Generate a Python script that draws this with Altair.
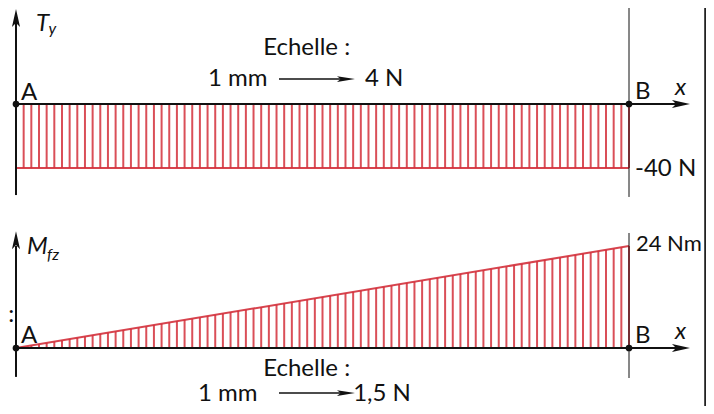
import altair as alt
import pandas as pd

# ---------------- data ----------------
beam_length = 0.6        # m, from A to B
shear_value = -40.0      # N   (Ty along AB)
moment_B = 24.0          # Nm  (Mfz at B, 0 at A)
hatch_count = 80         # number of hatch intervals along AB
point_names = ["A", "B"]
point_x = [0.0, beam_length]
shear_label = "-40 N"
moment_label = "24 Nm"
scale_T = ["Echelle :", "1 mm", "4 N"]
scale_M = ["Echelle :", "1 mm", "1,5 N"]

hatch_x = [beam_length * i / hatch_count for i in range(1, hatch_count + 1)]

# ---------------- style ----------------
RED = "#d3303b"
INK = "#111111"
FONT = "Lato"
FS = 24
W, H = 698, 398

xs = alt.Scale(domain=[-0.00783, 0.675367], nice=False, zero=False)
yT = alt.Scale(domain=[-188.75, 60.0], nice=False, zero=False)
yM = alt.Scale(domain=[-13.647, 80.0], nice=False, zero=False)

ARROW_LONG = "M0,0L-2,-0.45L-1.55,0L-2,0.45Z"
ARROW_THIN = "M0,0L-2,-0.32L-1.6,0L-2,0.32Z"


def X():
    return alt.X("x:Q", scale=xs, axis=None)


def Y(sc):
    return alt.Y("y:Q", scale=sc, axis=None)


def hseg(sc, rows, **kw):
    df = pd.DataFrame(rows, columns=["x", "x2", "y"])
    return alt.Chart(df).mark_rule(**kw).encode(x=X(), x2="x2:Q", y=Y(sc))


def vseg(sc, rows, **kw):
    df = pd.DataFrame(rows, columns=["x", "y", "y2"])
    return alt.Chart(df).mark_rule(**kw).encode(x=X(), y=Y(sc), y2="y2:Q")


def arrows(sc, rows, path, size, angle=0):
    df = pd.DataFrame(rows, columns=["x", "y"])
    kw = dict(shape=path, size=size, filled=True, color=INK, opacity=1, strokeWidth=0)
    if angle:
        kw["angle"] = angle
    return alt.Chart(df).mark_point(**kw).encode(x=X(), y=Y(sc))


def dots(sc):
    df = pd.DataFrame({"x": point_x, "y": [0.0, 0.0]})
    return alt.Chart(df).mark_point(shape="circle", size=45, filled=True, color=INK,
                                    opacity=1).encode(x=X(), y=Y(sc))


def texts(sc, rows, align="left", size=FS, italic=False):
    df = pd.DataFrame(rows, columns=["t", "x", "y"])
    kw = dict(align=align, baseline="middle", font=FONT, fontSize=size, color=INK)
    if italic:
        kw["fontStyle"] = "italic"
    return alt.Chart(df).mark_text(**kw).encode(x=X(), y=Y(sc), text="t:N")


# ---------------- top panel : Ty ----------------
hatch_T = alt.Chart(pd.DataFrame({"x": hatch_x})).transform_calculate(
    y="0", y2=str(shear_value)
).mark_rule(color=RED, strokeWidth=2, opacity=0.85).encode(x=X(), y=Y(yT), y2="y2:Q")

top = alt.layer(
    hatch_T,
    hseg(yT, [[0.0, beam_length, shear_value]], color=RED, strokeWidth=2, opacity=0.9),
    vseg(yT, [[0.67460, 60.0, -188.75]], color="#222222", strokeWidth=2),
    vseg(yT, [[beam_length, 60.0, -58.1]], color=INK, strokeWidth=1),
    vseg(yT, [[0.0, -56.9, 55.0]], color=INK, strokeWidth=2),
    hseg(yT, [[0.0, 0.655, 0.0]], color=INK, strokeWidth=2),
    arrows(yT, [[0.6597, 0.0]], ARROW_LONG, 324),
    arrows(yT, [[0.0, 59.4]], ARROW_LONG, 324, angle=270),
    dots(yT),
    texts(yT, [["A", 0.0049, 6.9], ["B", 0.6059, 7.2], [shear_label, 0.6059, -40.6],
               [scale_T[1], 0.1879, 15.6], [scale_T[2], 0.3416, 15.6]]),
    texts(yT, [[scale_T[0], 0.2845, 35.0]], align="center"),
    texts(yT, [["x", 0.645, 10.0], ["T", 0.0196, 50.0]], italic=True),
    texts(yT, [["y", 0.0318, 46.6]], size=16, italic=True),
    hseg(yT, [[0.2574, 0.325, 15.6]], color=INK, strokeWidth=1.5),
    arrows(yT, [[0.3318, 15.6]], ARROW_THIN, 324),
)

# ---------------- bottom panel : Mfz ----------------
hatch_M = alt.Chart(pd.DataFrame({"x": hatch_x})).transform_calculate(
    y="0", y2=f"datum.x * {moment_B} / {beam_length}"
).mark_rule(color=RED, strokeWidth=2, opacity=0.85).encode(x=X(), y=Y(yM), y2="y2:Q")

slope = alt.Chart(pd.DataFrame({"x": [0.0], "x2": [beam_length], "y": [0.0], "y2": [moment_B]})
                  ).mark_rule(color=RED, strokeWidth=2, opacity=0.9).encode(
    x=X(), x2="x2:Q", y=Y(yM), y2="y2:Q")

bottom = alt.layer(
    hatch_M,
    slope,
    vseg(yM, [[beam_length, 27.06, -7.06]], color=INK, strokeWidth=1),
    vseg(yM, [[0.0, -6.8, 24.0]], color=INK, strokeWidth=2),
    hseg(yM, [[0.0, 0.655, 0.0]], color=INK, strokeWidth=2),
    arrows(yM, [[0.6597, 0.0]], ARROW_LONG, 324),
    arrows(yM, [[0.0, 27.5]], ARROW_LONG, 324, angle=270),
    dots(yM),
    texts(yM, [["A", 0.0049, 2.8], ["B", 0.6059, 2.8],
               [":", -0.0075, 7.8],
               [scale_M[1], 0.1781, -10.8], [scale_M[2], 0.3300, -10.8]]),
    texts(yM, [[moment_label, 0.6068, 24.4]], size=22),
    texts(yM, [[scale_M[0], 0.2845, -5.0]], align="center"),
    texts(yM, [["x", 0.645, 3.8], ["M", 0.0108, 23.8]], italic=True),
    texts(yM, [["fz", 0.0304, 21.9]], size=16, italic=True),
    hseg(yM, [[0.2574, 0.325, -10.6]], color=INK, strokeWidth=1.5),
    arrows(yM, [[0.3318, -10.6]], ARROW_THIN, 324),
)

chart = alt.layer(top, bottom).resolve_scale(y="independent").properties(
    width=W, height=H, padding=0,
    autosize=alt.AutoSizeParams(type="none"),
    background="white",
).configure_view(stroke=None)

chart.save("out.html", embed_options={"renderer": "svg", "actions": False})
